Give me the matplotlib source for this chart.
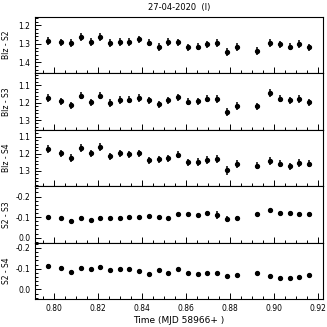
import numpy as np
import matplotlib
matplotlib.use("Agg")
import matplotlib.pyplot as plt
from matplotlib.ticker import AutoMinorLocator, MultipleLocator

# time (MJD 58966+)
t = [0.79728, 0.80317, 0.80757, 0.81211, 0.81664, 0.82086, 0.82540, 0.82980,
     0.83420, 0.83864, 0.84308, 0.84748, 0.85188, 0.85633, 0.86086, 0.86531,
     0.86970, 0.87424, 0.87868, 0.88317, 0.89229, 0.89828, 0.90268, 0.90712,
     0.91156, 0.91605]

blz_s2 = [1.284, 1.292, 1.297, 1.265, 1.289, 1.262, 1.297, 1.289, 1.289, 1.276,
          1.294, 1.315, 1.289, 1.292, 1.319, 1.315, 1.303, 1.297, 1.345, 1.319,
          1.337, 1.294, 1.303, 1.315, 1.303, 1.319]
blz_s2_err = [0.022, 0.020, 0.022, 0.022, 0.021, 0.022, 0.021, 0.021, 0.020, 0.021,
              0.020, 0.022, 0.021, 0.020, 0.020, 0.021, 0.021, 0.022, 0.023, 0.022,
              0.021, 0.022, 0.020, 0.021, 0.022, 0.020]

blz_s3 = [1.173, 1.191, 1.216, 1.159, 1.197, 1.159, 1.201, 1.184, 1.182, 1.173,
          1.186, 1.210, 1.187, 1.169, 1.195, 1.191, 1.176, 1.178, 1.254, 1.220,
          1.220, 1.144, 1.176, 1.186, 1.178, 1.197]
blz_s3_err = [0.022, 0.020, 0.022, 0.022, 0.021, 0.022, 0.021, 0.021, 0.020, 0.021,
              0.020, 0.022, 0.021, 0.020, 0.020, 0.021, 0.021, 0.023, 0.024, 0.023,
              0.021, 0.022, 0.020, 0.021, 0.022, 0.020]

blz_s4 = [1.173, 1.197, 1.224, 1.167, 1.197, 1.160, 1.215, 1.197, 1.202, 1.197,
          1.237, 1.233, 1.227, 1.204, 1.249, 1.249, 1.237, 1.230, 1.297, 1.260,
          1.269, 1.240, 1.258, 1.273, 1.255, 1.258]
blz_s4_err = [0.023, 0.021, 0.023, 0.023, 0.022, 0.023, 0.022, 0.022, 0.021, 0.022,
              0.021, 0.023, 0.022, 0.021, 0.021, 0.022, 0.022, 0.023, 0.024, 0.023,
              0.022, 0.023, 0.021, 0.022, 0.023, 0.021]

s2_s3 = [-0.099, -0.094, -0.082, -0.097, -0.086, -0.097, -0.094, -0.097, -0.100,
         -0.099, -0.103, -0.099, -0.094, -0.114, -0.113, -0.108, -0.120, -0.110,
         -0.089, -0.094, -0.113, -0.133, -0.118, -0.118, -0.114, -0.113]
s2_s3_err = [0.008, 0.007, 0.008, 0.008, 0.007, 0.008, 0.007, 0.007, 0.007, 0.007,
             0.007, 0.008, 0.007, 0.007, 0.007, 0.008, 0.012, 0.020, 0.015, 0.010,
             0.008, 0.008, 0.007, 0.007, 0.007, 0.007]

s2_s4 = [-0.115, -0.105, -0.085, -0.105, -0.099, -0.110, -0.094, -0.099, -0.097,
         -0.089, -0.073, -0.094, -0.080, -0.097, -0.080, -0.074, -0.080, -0.080,
         -0.064, -0.069, -0.078, -0.066, -0.056, -0.053, -0.061, -0.069]
s2_s4_err = [0.006] * len(t)

panels = [
    (blz_s2, blz_s2_err, "Blz - S2", (1.46, 1.155)),
    (blz_s3, blz_s3_err, "Blz - S3", (1.357, 1.031)),
    (blz_s4, blz_s4_err, "Blz - S4", (1.39, 1.06)),
    (s2_s3, s2_s3_err, "S2 - S3", (0.025, -0.25)),
    (s2_s4, s2_s4_err, "S2 - S4", (0.047, -0.225)),
]

fig, axes = plt.subplots(5, 1, sharex=True, figsize=(3.27, 3.27), dpi=100)
fig.subplots_adjust(left=0.107, right=0.988, top=0.948, bottom=0.085, hspace=0)

for ax, (y, e, lab, lim) in zip(axes, panels):
    ax.errorbar(t, y, yerr=e, fmt="o", color="black", ms=2.8, elinewidth=1.1,
                capsize=0)
    ax.set_ylim(*lim)
    ax.set_ylabel(lab, fontsize=5.5, labelpad=3)
    ax.yaxis.set_major_locator(MultipleLocator(0.1))
    ax.yaxis.set_major_formatter(matplotlib.ticker.FormatStrFormatter("%.1f"))
    ax.yaxis.set_minor_locator(AutoMinorLocator(5))
    ax.xaxis.set_major_locator(MultipleLocator(0.02))
    ax.xaxis.set_minor_locator(AutoMinorLocator(4))
    ax.tick_params(which="both", direction="in", labelsize=5.5, width=0.7)
    ax.tick_params(which="major", length=4)
    ax.tick_params(which="minor", length=2)
    for s in ax.spines.values():
        s.set_linewidth(0.8)

axes[-1].set_xlim(0.7913, 0.9223)
axes[-1].xaxis.set_major_formatter(matplotlib.ticker.FormatStrFormatter("%.2f"))
axes[-1].set_xlabel("Time (MJD 58966+ )", fontsize=6.5, labelpad=2)
axes[0].set_title("27-04-2020  (I)", fontsize=6, pad=5)
fig.align_ylabels(axes)

plt.savefig("out.png", dpi=100)
